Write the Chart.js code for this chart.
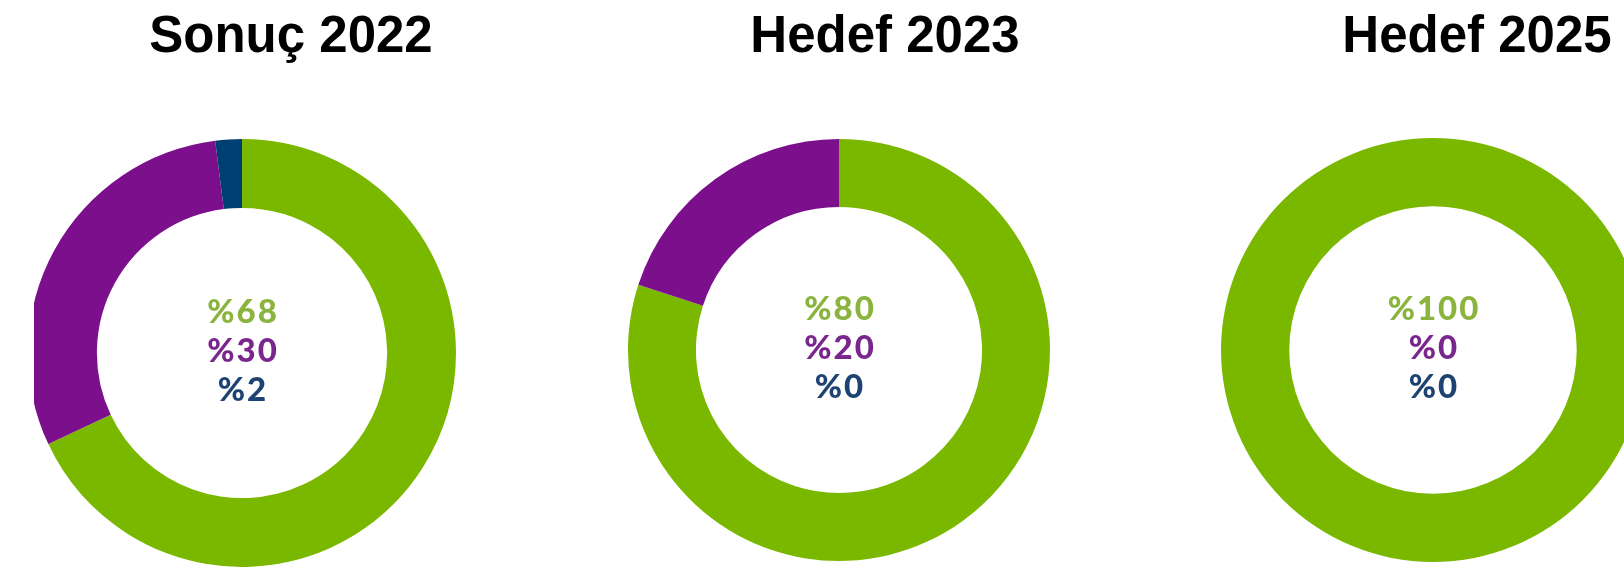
<!DOCTYPE html>
<html>
<head>
<meta charset="utf-8">
<script src="https://cdn.jsdelivr.net/npm/chart.js@4"></script>
<style>
    html, body { margin: 0; padding: 0; background: #fff; overflow: hidden; }
    body { width: 1624px; height: 569px; position: relative; }
    .title {
        position: absolute; top: 5px; width: 400px; margin-left: -200px;
        text-align: center; font: bold 51px "Liberation Sans", Arial, sans-serif; color: #000;
    }
    .clip { position: absolute; overflow: hidden; }
    .box { position: absolute; }
    .center {
        position: absolute; width: 200px; margin-left: -100px; text-align: center;
        font: 900 33px Lato, sans-serif; line-height: 39px; letter-spacing: 2px;
    }
</style>
</head>
<body>
<script>
'use strict';

const titles = ['Sonuç 2022', 'Hedef 2023', 'Hedef 2025'];
const greenShare = [68, 80, 100];
const purpleShare = [30, 20, 0];
const navyShare = [2, 0, 0];

const ringColors = ['#7ab800', '#7b0f8c', '#003f72'];
const textColors = ['#8ab43e', '#7a278d', '#1d4372'];

// placement of each donut on the page: centre, radius, clip
const slots = [
    { cx: 242, cy: 353, r: 214, clipLeft: 34, titleX: 291 },
    { cx: 839, cy: 350, r: 211, clipLeft: 0, titleX: 885 },
    { cx: 1433, cy: 350, r: 212, clipLeft: 0, titleX: 1477 }
];

titles.forEach((title, i) => {
    const slot = slots[i];
    const values = [greenShare[i], purpleShare[i], navyShare[i]];

    const t = document.createElement('div');
    t.className = 'title';
    t.style.left = slot.titleX + 'px';
    t.textContent = title;
    document.body.appendChild(t);

    const clip = document.createElement('div');
    clip.className = 'clip';
    clip.style.left = slot.clipLeft + 'px';
    clip.style.top = '0px';
    clip.style.width = (1624 - slot.clipLeft) + 'px';
    clip.style.height = '569px';
    document.body.appendChild(clip);

    const size = slot.r * 2;
    const box = document.createElement('div');
    box.className = 'box';
    box.style.left = (slot.cx - slot.r - slot.clipLeft) + 'px';
    box.style.top = (slot.cy - slot.r) + 'px';
    const canvas = document.createElement('canvas');
    canvas.width = size;
    canvas.height = size;
    box.appendChild(canvas);
    clip.appendChild(box);

    new Chart(canvas.getContext('2d'), {
        type: 'doughnut',
        data: {
            labels: ['green', 'purple', 'navy'],
            datasets: [{
                data: values,
                backgroundColor: ringColors,
                borderWidth: 0
            }]
        },
        options: {
            responsive: false,
            animation: false,
            cutout: '67.8%',
            layout: { padding: 0 },
            plugins: {
                legend: { display: false },
                tooltip: { enabled: false }
            }
        }
    });

    const c = document.createElement('div');
    c.className = 'center';
    c.style.left = (slot.cx + 1) + 'px';
    c.style.top = (slot.cy - 62) + 'px';
    values.forEach((v, k) => {
        const line = document.createElement('div');
        line.style.color = textColors[k];
        line.textContent = '%' + v;
        c.appendChild(line);
    });
    document.body.appendChild(c);
});
</script>
</body>
</html>
